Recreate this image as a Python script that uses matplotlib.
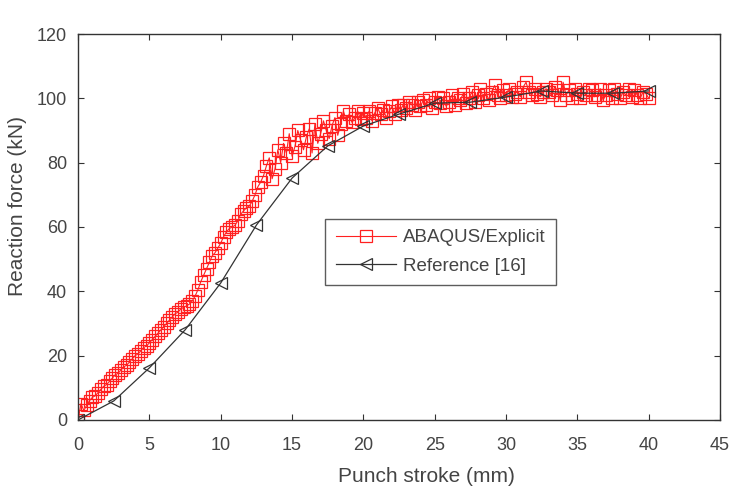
import numpy as np
import matplotlib
matplotlib.use('Agg')
import matplotlib.pyplot as plt

plt.rcParams['font.family'] = ['Liberation Sans', 'DejaVu Sans']

# ABAQUS/Explicit results, stroke step 0.2 mm (one row per mm)
abaqus_x = np.arange(0, 40.001, 0.2)
abaqus_y = [
    0, 5, 3, 4.5, 6,
    7, 7.5, 8.5, 9.5, 10.5,
    11, 12, 13, 14, 14.5,
    15.5, 16.5, 17, 18, 19,
    20, 20.5, 21.5, 22.5, 23,
    24, 25, 26, 27, 28,
    29, 30, 31, 32, 33,
    33.5, 34.5, 35, 35.5, 36,
    37, 38.5, 40.5, 43, 45,
    47, 49, 51, 52, 53.5,
    55, 57, 58.5, 59.5, 60,
    60.5, 62, 64, 65, 66,
    66.5, 68, 70, 72.5, 74,
    76, 79, 81.5, 75, 78,
    84, 80, 86, 83, 89,
    82, 85, 90, 87, 84,
    88, 90.5, 83, 92, 86,
    89, 93, 90, 87.5, 91.5,
    94, 88.5, 92, 96, 93,
    95, 92.5, 94, 96, 93.5,
    95.5, 94, 96, 93, 95.5,
    97, 95, 96.5, 94, 96,
    97.5, 95, 98, 96.5, 98,
    97, 99, 98, 96.5, 99,
    97.5, 99.5, 98, 100, 97,
    99, 100.5, 98.5, 100, 97.5,
    99, 101, 98, 100, 99.5,
    101.5, 98.5, 100, 102, 99,
    101, 103, 100, 101.5, 99.5,
    102, 104, 101, 100, 102.5,
    101, 103, 100.5, 101.5, 102,
    100.5, 103.5, 105, 102, 101,
    103, 101.5, 100.5, 102, 103,
    102, 101, 103.5, 102.5, 99.5,
    105, 101, 102.5, 100, 103,
    101.5, 100, 102, 101, 103,
    102.5, 100.5, 101, 103, 99.5,
    101, 102.5, 100, 103, 101.5,
    100, 102, 101, 103, 100.5,
    102.5, 101, 100, 102, 101.5,
    100,
]

# Reference [16]
ref_x = [0, 2.5, 5, 7.5, 10, 12.5, 15, 17.5, 20, 22.5, 25, 27.5, 30, 32.5, 35, 37.5, 40]
ref_y = [0, 5.9, 16.2, 28, 42.6, 60.6, 75.2, 85.2, 91.4, 95.1, 98.5, 98.8, 100.4, 102.3, 101.6, 101.6, 102.3]

txt = '#444444'

fig = plt.figure(figsize=(7.37, 4.86), dpi=100)
ax = fig.add_axes([0.106, 0.136, 0.871, 0.794])

ax.plot(abaqus_x, abaqus_y, color='#ff2020', lw=0.8, marker='s', ms=8.5,
        mfc='none', mec='#ff2020', mew=0.9, label='ABAQUS/Explicit', zorder=2)
ax.plot(ref_x, ref_y, color='#333333', lw=0.9, marker='<', ms=9,
        mfc='none', mec='#333333', mew=0.9, label='Reference [16]', zorder=3)

ax.set_xlim(0, 45)
ax.set_ylim(0, 120)
ax.set_xticks(range(0, 46, 5))
ax.set_yticks(range(0, 121, 20))
ax.tick_params(direction='in', top=True, right=True, length=4, width=0.8,
               labelsize=13, labelcolor=txt, color='#333333')
ax.tick_params(axis='x', pad=12)
ax.tick_params(axis='y', pad=8)
for s in ax.spines.values():
    s.set_color('#333333')
    s.set_linewidth(1.0)

ax.set_xlabel('Punch stroke (mm)', fontsize=15, color=txt)
ax.set_ylabel('Reaction force (kN)', fontsize=15, color=txt)
ax.xaxis.set_label_coords(0.542, -0.122)
ax.yaxis.set_label_coords(-0.08, 0.554)

leg = ax.legend(loc='upper left', bbox_to_anchor=(0.385, 0.521), fontsize=13.5,
                frameon=True, fancybox=False, handlelength=3.2, borderpad=0.55,
                labelspacing=0.6, handletextpad=0.4, borderaxespad=0)
leg.get_frame().set_edgecolor('#333333')
leg.get_frame().set_linewidth(1.0)
for t in leg.get_texts():
    t.set_color(txt)

fig.savefig('out.png', dpi=100)
